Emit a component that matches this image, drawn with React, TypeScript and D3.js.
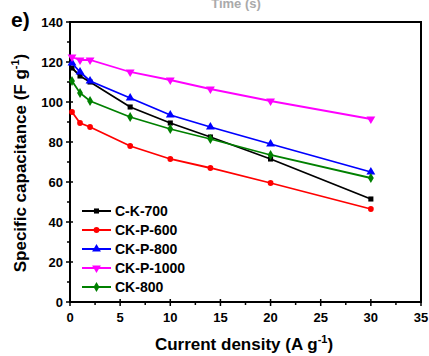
import React, { useEffect, useRef } from 'react';
import * as d3 from 'd3';

// current density (A g-1)
const density = [0.2, 1, 2, 6, 10, 14, 20, 30];
const seriesNames = ['C-K-700', 'CK-P-600', 'CK-P-800', 'CK-P-1000', 'CK-800'];
const ck700 = [117, 113, 110, 97.5, 89.5, 82.5, 71.5, 51.5];
const ckp600 = [95, 89.5, 87.5, 78, 71.5, 67, 59.5, 46.5];
const ckp800 = [119.5, 115, 110.5, 102, 93.5, 87.5, 79, 65];
const ckp1000 = [122.5, 121, 121, 115, 111, 106.5, 100.5, 91.5];
const ck800 = [110.5, 104.5, 100.5, 92.5, 86.5, 81.5, 73.5, 62];
const xTicks = [0, 5, 10, 15, 20, 25, 30, 35];
const yTicks = [0, 20, 40, 60, 80, 100, 120, 140];

const colors = ['#000000', '#ff0000', '#0000ff', '#ff00ff', '#008000'];
const symbols = [d3.symbolSquare, d3.symbolCircle, 'up', 'down', d3.symbolDiamond];

export default function App() {
  const ref = useRef<SVGSVGElement>(null);

  useEffect(() => {
    const svg = d3.select(ref.current);
    svg.selectAll('*').remove();
    const font = 'Arial, "Liberation Sans", sans-serif';
    const margin = { left: 70, top: 22, right: 8, bottom: 54 };
    const W = 429, H = 356;

    const x = d3.scaleLinear().domain([0, 35]).range([margin.left, W - margin.right]);
    const y = d3.scaleLinear().domain([0, 140]).range([H - margin.bottom, margin.top]);

    // faint clipped title from the panel above
    svg.append('text').attr('x', 236).attr('y', 8).attr('font-family', font)
      .attr('font-weight', 'bold').attr('font-size', 13).attr('fill', '#aaa')
      .attr('text-anchor', 'middle').text('Time (s)');

    // frame
    svg.append('rect').attr('x', x(0)).attr('y', y(140))
      .attr('width', x(35) - x(0)).attr('height', y(0) - y(140))
      .attr('fill', 'none').attr('stroke', '#000').attr('stroke-width', 2);

    // x ticks
    const xg = svg.append('g');
    xTicks.forEach(t => {
      xg.append('line').attr('x1', x(t)).attr('x2', x(t)).attr('y1', y(0) - 3).attr('y2', y(0) + 4)
        .attr('stroke', '#000').attr('stroke-width', 1.5);
      xg.append('text').attr('x', x(t)).attr('y', y(0) + 20).attr('text-anchor', 'middle')
        .attr('font-family', font).attr('font-weight', 'bold').attr('font-size', 13).text(t);
    });
    d3.range(2.5, 35, 5).forEach(t => {
      xg.append('line').attr('x1', x(t)).attr('x2', x(t)).attr('y1', y(0)).attr('y2', y(0) + 3)
        .attr('stroke', '#000').attr('stroke-width', 1.5);
    });
    // y ticks
    const yg = svg.append('g');
    yTicks.forEach(t => {
      yg.append('line').attr('x1', x(0) - 4).attr('x2', x(0) + 3).attr('y1', y(t)).attr('y2', y(t))
        .attr('stroke', '#000').attr('stroke-width', 1.5);
      yg.append('text').attr('x', x(0) - 7).attr('y', y(t) + 4.5).attr('text-anchor', 'end')
        .attr('font-family', font).attr('font-weight', 'bold').attr('font-size', 13).text(t);
    });
    d3.range(10, 140, 20).forEach(t => {
      yg.append('line').attr('x1', x(0) - 3).attr('x2', x(0)).attr('y1', y(t)).attr('y2', y(t))
        .attr('stroke', '#000').attr('stroke-width', 1.5);
    });

    // axis titles
    const xt = svg.append('text').attr('x', 244).attr('y', 350).attr('text-anchor', 'middle')
      .attr('font-family', font).attr('font-weight', 'bold').attr('font-size', 17);
    xt.append('tspan').text('Current density (A g');
    xt.append('tspan').attr('dy', -7).attr('font-size', 11).text('-1');
    xt.append('tspan').attr('dy', 7).text(')');

    const yt = svg.append('text').attr('transform', 'translate(26,163) rotate(-90)')
      .attr('text-anchor', 'middle').attr('font-family', font).attr('font-weight', 'bold').attr('font-size', 17);
    yt.append('tspan').text('Specific capacitance (F g');
    yt.append('tspan').attr('dy', -7).attr('font-size', 11).text('-1');
    yt.append('tspan').attr('dy', 7).text(')');

    svg.append('text').attr('x', 11).attr('y', 27).attr('font-family', font)
      .attr('font-weight', 'bold').attr('font-size', 21).text('e)');

    const data = [ck700, ckp600, ckp800, ckp1000, ck800];
    const line = d3.line<number>().x((_, i) => x(density[i])).y(d => y(d));

    const marker = (g: any, k: number, cx: number, cy: number) => {
      const s = symbols[k];
      if (s === 'up' || s === 'down') {
        g.append('path').attr('d', d3.symbol(d3.symbolTriangle, 34)())
          .attr('transform', `translate(${cx},${cy}) rotate(${s === 'down' ? 180 : 0})`)
          .attr('fill', colors[k]);
      } else {
        g.append('path').attr('d', d3.symbol(s as d3.SymbolType, s === d3.symbolDiamond ? 30 : 26)())
          .attr('transform', `translate(${cx},${cy})`).attr('fill', colors[k]);
      }
    };

    data.forEach((vals, k) => {
      const g = svg.append('g');
      g.append('path').attr('d', line(vals)).attr('fill', 'none')
        .attr('stroke', colors[k]).attr('stroke-width', 1.8);
      vals.forEach((v, i) => marker(g, k, x(density[i]), y(v)));
    });

    // legend
    seriesNames.forEach((name, k) => {
      const ly = 211 + k * 19;
      const g = svg.append('g');
      g.append('line').attr('x1', 82).attr('x2', 111).attr('y1', ly).attr('y2', ly)
        .attr('stroke', colors[k]).attr('stroke-width', 2);
      marker(g, k, 96.5, ly);
      g.append('text').attr('x', 115).attr('y', ly + 5).attr('font-family', font)
        .attr('font-weight', 'bold').attr('font-size', 14).text(name);
    });
  }, []);

  return (
    <svg ref={ref} width={429} height={356}
      style={{ position: 'absolute', left: 0, top: 0, background: '#fff' }} />
  );
}
